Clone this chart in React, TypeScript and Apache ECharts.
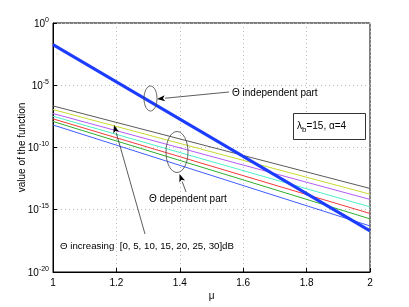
import React, { useEffect, useRef } from "react";
import * as echarts from "echarts";

const muValues = [1, 2];
const thetaDb = [0, 5, 10, 15, 20, 25, 30];
const thetaColors = ["#3f5cff", "#2fae2f", "#f23a3a", "#4cf0c8", "#b45af5", "#c9d92e", "#5a5a5a"];
// Θ dependent part (value at μ=1, μ=2) for Θ = 0..30 dB
const dependentAt1 = [6.46e-9, 1.23e-8, 2.0e-8, 3.24e-8, 5.37e-8, 1.12e-7, 2.19e-7];
const dependentAt2 = [5.0e-17, 1.86e-16, 5.0e-16, 1.7e-15, 6.76e-15, 1.78e-14, 5.13e-14];
// Θ independent part
const independent = [1.82e-2, 2.0e-17];
const xTicks = [1, 1.2, 1.4, 1.6, 1.8, 2];

const FONT = "Liberation Sans, Arial, Helvetica, sans-serif";

export default function App() {
  const ref = useRef<HTMLDivElement>(null);
  useEffect(() => {
    const chart = echarts.init(ref.current!, null, { renderer: "svg" });
    const series: any[] = thetaDb.map((t, i) => ({
      name: `${t} dB`,
      type: "line",
      data: muValues.map((m, j) => [m, j === 0 ? dependentAt1[i] : dependentAt2[i]]),
      showSymbol: false,
      lineStyle: { color: thetaColors[i], width: 1 },
      z: 2,
    }));
    series.push({
      name: "independent",
      type: "line",
      data: muValues.map((m, j) => [m, independent[j]]),
      showSymbol: false,
      lineStyle: { color: "#1c3cff", width: 3 },
      z: 3,
    });

    const arrowHead = (tx: number, ty: number, hx: number, hy: number) => {
      const ang = Math.atan2(hy - ty, hx - tx);
      const L = 8, W = 3;
      const bx = hx - L * Math.cos(ang), by = hy - L * Math.sin(ang);
      const px = -Math.sin(ang) * W, py = Math.cos(ang) * W;
      return [
        { type: "line", shape: { x1: tx, y1: ty, x2: bx, y2: by }, style: { stroke: "#333", lineWidth: 0.8 } },
        {
          type: "polygon",
          shape: { points: [[hx, hy], [bx + px, by + py], [bx + 2 * Math.cos(ang), by + 2 * Math.sin(ang)], [bx - px, by - py]] },
          style: { fill: "#000" },
        },
      ];
    };

    const textStyle = { fontFamily: FONT, fontSize: 10, fill: "#000" };

    chart.setOption({
      animation: false,
      grid: { left: 53, top: 23, right: 39, bottom: 35, show: true, borderColor: "#000", borderWidth: 1 },
      xAxis: {
        type: "value",
        min: 1,
        max: 2,
        interval: 0.2,
        name: "μ",
        nameLocation: "middle",
        nameGap: 18,
        nameMoveOverlap: false,
        nameTextStyle: { fontFamily: FONT, fontSize: 10, color: "#000" },
        axisLine: { lineStyle: { color: "#000" } },
        axisTick: { inside: true, length: 4, lineStyle: { color: "#000" } },
        axisLabel: {
          fontFamily: FONT,
          fontSize: 10,
          color: "#000",
          margin: 5,
          formatter: (v: number) => (xTicks.some((t) => Math.abs(t - v) < 1e-9) ? String(Math.round(v * 10) / 10) : ""),
        },
        splitLine: { show: true, lineStyle: { color: "#bbb", type: [1, 3] } },
      },
      yAxis: {
        type: "log",
        logBase: 10,
        min: 1e-20,
        max: 1,
        interval: 5,
        name: "value of the function",
        nameLocation: "middle",
        nameGap: 27,
        nameMoveOverlap: false,
        nameTextStyle: { fontFamily: FONT, fontSize: 10, color: "#000" },
        axisLine: { lineStyle: { color: "#000" } },
        axisTick: { inside: true, length: 4, lineStyle: { color: "#000" } },
        axisLabel: {
          fontFamily: FONT,
          fontSize: 10,
          color: "#000",
          margin: 4,
          formatter: (v: number) => `10{sup|${Math.round(Math.log10(v))}}`,
          rich: {
            sup: { fontFamily: FONT, fontSize: 7, color: "#000", padding: [0, 0, 8, 0] },
          },
        },
        splitLine: { show: true, lineStyle: { color: "#bbb", type: [1, 3] } },
      },
      series,
      graphic: [
        { type: "ellipse", shape: { cx: 150.5, cy: 98.5, rx: 6.5, ry: 12.5 }, style: { fill: "none", stroke: "#444", lineWidth: 0.8 }, z: 10 },
        { type: "ellipse", shape: { cx: 177, cy: 152, rx: 11, ry: 20.5 }, style: { fill: "none", stroke: "#444", lineWidth: 0.8 }, z: 10 },
        ...arrowHead(229, 92, 157, 99).map((g) => ({ ...g, z: 10 })),
        ...arrowHead(186, 192, 179.5, 174).map((g) => ({ ...g, z: 10 })),
        ...arrowHead(145, 234, 114, 125).map((g) => ({ ...g, z: 10 })),
        { type: "text", x: 232, y: 92, style: { ...textStyle, text: "Θ independent part", verticalAlign: "middle" }, z: 10 },
        { type: "text", x: 149, y: 198, style: { ...textStyle, text: "Θ dependent part", verticalAlign: "middle" }, z: 10 },
        {
          type: "text",
          x: 60,
          y: 245,
          style: { ...textStyle, fontSize: 9.7, text: "Θ increasing  [0, 5, 10, 15, 20, 25, 30]dB", verticalAlign: "middle" },
          z: 10,
        },
        {
          type: "rect",
          shape: { x: 293.5, y: 113.5, width: 72, height: 26 },
          style: { fill: "#fff", stroke: "#333", lineWidth: 1 },
          z: 10,
        },
        {
          type: "text",
          x: 297,
          y: 125,
          style: {
            text: "λ{sub|b}=15, α=4",
            fontFamily: FONT,
            fontSize: 10,
            fill: "#000",
            verticalAlign: "middle",
            rich: { sub: { fontFamily: FONT, fontSize: 8, fill: "#000", padding: [8, 0, 0, 0] } },
          },
          z: 11,
        },
      ],
    });
    return () => chart.dispose();
  }, []);
  return <div ref={ref} style={{ position: "fixed", left: 0, top: 0, width: 409, height: 307 }} />;
}
